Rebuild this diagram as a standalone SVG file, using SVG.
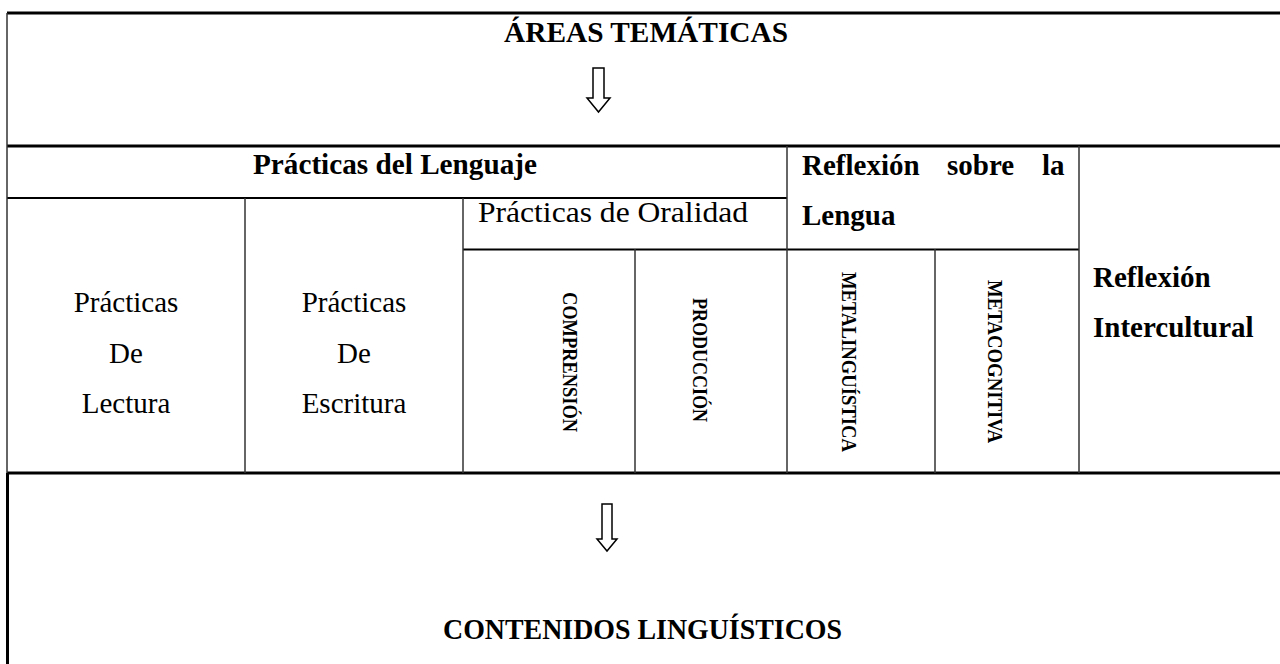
<svg xmlns="http://www.w3.org/2000/svg" width="1280" height="664" viewBox="0 0 1280 664">
<style>
.bg{fill:#ffffff}
.thick{stroke:#000;stroke-width:3;fill:none}
.med{stroke:#000;stroke-width:2.2;fill:none}
.thin{stroke:#333;stroke-width:1.5;fill:none}
.b{font-family:"Liberation Serif","Times New Roman",serif;font-weight:bold;font-size:29px;fill:#000}
.r{font-family:"Liberation Serif","Times New Roman",serif;font-size:29px;fill:#000}
.v{font-family:"Liberation Serif","Times New Roman",serif;font-weight:bold;font-size:21px;fill:#000}
.arrow{fill:#fff;stroke:#000;stroke-width:1.5;stroke-linejoin:miter}
</style>
<rect class="bg" x="0" y="0" width="1280" height="664"/>
<g id="grid">
  <line class="thick" x1="7" y1="13" x2="1280" y2="13"/>
  <line class="thick" x1="7" y1="146" x2="1280" y2="146"/>
  <line class="med" x1="7" y1="198" x2="787" y2="198"/>
  <line class="med" x1="463" y1="249.5" x2="1079" y2="249.5"/>
  <line class="thick" x1="7" y1="473" x2="1280" y2="473"/>
  <line class="thin" x1="7" y1="13" x2="7" y2="473"/>
  <line class="thick" x1="7.5" y1="473" x2="7.5" y2="664"/>
  <line class="thin" x1="245" y1="198" x2="245" y2="473"/>
  <line class="thin" x1="463" y1="198" x2="463" y2="473"/>
  <line class="thin" x1="635" y1="249" x2="635" y2="473"/>
  <line class="thin" x1="787" y1="146" x2="787" y2="473"/>
  <line class="thin" x1="935" y1="249" x2="935" y2="473"/>
  <line class="thin" x1="1079" y1="146" x2="1079" y2="473"/>
</g>
<g id="areas-tematicas">
  <text class="b" x="646" y="42" text-anchor="middle" textLength="284" lengthAdjust="spacingAndGlyphs">ÁREAS TEMÁTICAS</text>
</g>
<g id="practicas-lenguaje">
  <text class="b" x="395" y="174" text-anchor="middle" textLength="284" lengthAdjust="spacingAndGlyphs">Prácticas del Lenguaje</text>
</g>
<g id="reflexion-lengua">
  <text class="b" x="802" y="175">Reflexión</text>
  <text class="b" x="947" y="175">sobre</text>
  <text class="b" x="1042" y="175">la</text>
  <text class="b" x="802" y="225">Lengua</text>
</g>
<g id="practicas-oralidad">
  <text class="r" x="478" y="222" textLength="270" lengthAdjust="spacingAndGlyphs">Prácticas de Oralidad</text>
</g>
<g id="practicas-lectura">
  <text class="r" x="126" y="312" text-anchor="middle">Prácticas</text>
  <text class="r" x="126" y="363" text-anchor="middle">De</text>
  <text class="r" x="126" y="413" text-anchor="middle">Lectura</text>
</g>
<g id="practicas-escritura">
  <text class="r" x="354" y="312" text-anchor="middle">Prácticas</text>
  <text class="r" x="354" y="363" text-anchor="middle">De</text>
  <text class="r" x="354" y="413" text-anchor="middle">Escritura</text>
</g>
<g id="comprension">
  <text class="v" transform="translate(563,292) rotate(90)" textLength="140" lengthAdjust="spacingAndGlyphs">COMPRENSIÓN</text>
</g>
<g id="produccion">
  <text class="v" transform="translate(693,298) rotate(90)" textLength="124" lengthAdjust="spacingAndGlyphs">PRODUCCIÓN</text>
</g>
<g id="metalinguistica">
  <text class="v" transform="translate(842,272) rotate(90)" textLength="180" lengthAdjust="spacingAndGlyphs">METALINGUÍSTICA</text>
</g>
<g id="metacognitiva">
  <text class="v" transform="translate(988,280) rotate(90)" textLength="163" lengthAdjust="spacingAndGlyphs">METACOGNITIVA</text>
</g>
<g id="reflexion-intercultural">
  <text class="b" x="1093" y="287">Reflexión</text>
  <text class="b" x="1093" y="337">Intercultural</text>
</g>
<g id="contenidos">
  <text class="b" x="642.5" y="639" text-anchor="middle" textLength="399" lengthAdjust="spacingAndGlyphs">CONTENIDOS LINGUÍSTICOS</text>
</g>
<g id="connectors">
  <polygon class="arrow" points="593,68 604,68 604,98 610,98 598.5,112 587,98 593,98"/>
  <polygon class="arrow" points="602,504 612,504 612,539 617,539 607,551 597,539 602,539"/>
</g>
</svg>
